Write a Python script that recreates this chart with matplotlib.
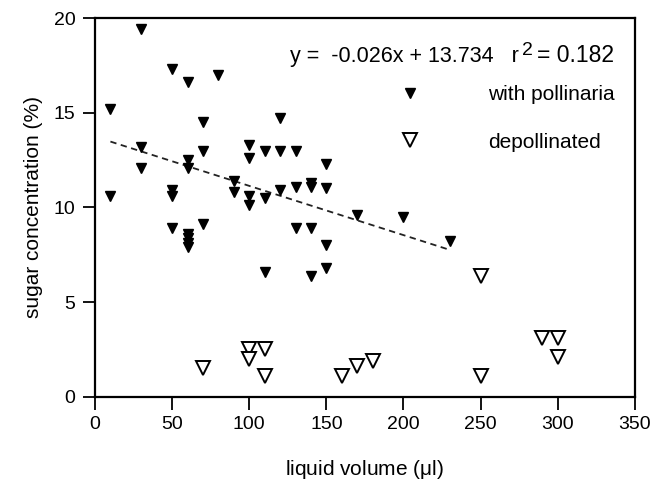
import matplotlib
matplotlib.use("Agg")
import matplotlib.pyplot as plt
import numpy as np

plt.rcParams['font.family'] = ['Liberation Sans', 'DejaVu Sans']
plt.rcParams['mathtext.fontset'] = 'custom'
plt.rcParams['mathtext.rm'] = 'Liberation Sans'
plt.rcParams['mathtext.it'] = 'Liberation Sans'

# with pollinaria (filled triangles)
vol_poll = [10, 10,
            30, 30, 30,
            50, 50, 50, 50,
            60, 60, 60, 60, 60, 60, 60,
            70, 70, 70,
            80,
            90, 90,
            100, 100, 100, 100,
            110, 110, 110,
            120, 120, 120,
            130, 130, 130,
            140, 140, 140, 140,
            150, 150, 150, 150,
            170, 200, 230]
sugar_poll = [15.2, 10.6,
              19.4, 13.2, 12.1,
              17.3, 10.9, 10.6, 8.9,
              16.6, 12.5, 12.1, 8.6, 8.4, 8.1, 7.9,
              14.5, 13.0, 9.1,
              17.0,
              11.4, 10.8,
              13.3, 12.6, 10.6, 10.1,
              13.0, 10.5, 6.6,
              14.7, 13.0, 10.9,
              13.0, 11.1, 8.9,
              11.3, 11.1, 8.9, 6.4,
              12.3, 11.0, 8.0, 6.8,
              9.6, 9.5, 8.2]

# depollinated (open triangles)
vol_depoll = [70, 100, 100, 110, 110, 160, 170, 180, 250, 250, 290, 300, 300]
sugar_depoll = [1.5, 2.5, 2.0, 2.5, 1.1, 1.1, 1.6, 1.9, 6.4, 1.1, 3.1, 3.1, 2.1]

# regression printed on the chart
slope = -0.026
intercept = 13.734
r2 = 0.182

fig = plt.figure(figsize=(6.56, 4.84), dpi=100, facecolor='white')
ax = fig.add_axes([0.1448, 0.1804, 0.823, 0.7824])

ax.plot(vol_poll, sugar_poll, 'v', color='black', markersize=7.5, linestyle='none',
        label='with pollinaria', zorder=3)
ax.plot(vol_depoll, sugar_depoll, 'v', markerfacecolor='white', markeredgecolor='black',
        markeredgewidth=1.4, markersize=9.5, linestyle='none', label='depollinated', zorder=3)

# fitted line over the range of the pollinated data
x_fit = np.array([min(vol_poll), max(vol_poll)])
ax.plot(x_fit, slope * x_fit + intercept, color='#222222', linewidth=1.3,
        linestyle=(0, (3.5, 2.5)), zorder=2)

ax.set_xlim(0, 350)
ax.set_ylim(0, 20)
ax.set_xticks(np.arange(0, 351, 50))
ax.set_yticks(np.arange(0, 21, 5))
ax.tick_params(direction='out', length=9, width=1.3, labelsize=14, pad=5, top=False, right=False)
for s in ax.spines.values():
    s.set_linewidth(1.6)

ax.set_xlabel('liquid volume ($\\mu$l)', fontsize=15, labelpad=18)
ax.set_ylabel('sugar concentration (%)', fontsize=15, labelpad=8)

# equation, with a larger raised "2" as in the original
eq_y = 0.885
eq = ax.text(0.361, eq_y, 'y =  %.3fx + %.3f   r' % (slope, intercept),
             transform=ax.transAxes, fontsize=15.5, va='baseline', ha='left')
ax.annotate('2', xy=(1, eq_y), xycoords=(eq, 'axes fraction'), xytext=(2, 4.5),
            textcoords='offset points', fontsize=14, va='baseline', ha='left')
ax.annotate('= %.3f' % r2, xy=(1, eq_y), xycoords=(eq, 'axes fraction'), xytext=(13, 0),
            textcoords='offset points', fontsize=16.5, va='baseline', ha='left')

ax.legend(loc='upper left', bbox_to_anchor=(0.506, 0.822), frameon=False, fontsize=15,
          handlelength=4, handletextpad=1.75, labelspacing=1.35, borderpad=0, borderaxespad=0,
          numpoints=1)

fig.savefig('out.png', dpi=100)
